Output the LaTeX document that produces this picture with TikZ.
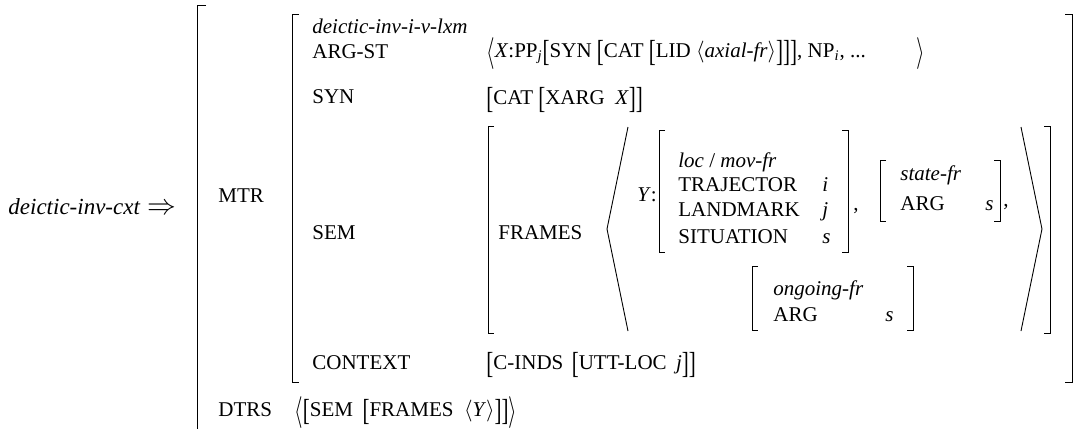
\documentclass[tikz,border=0pt]{standalone}
\usepackage{fontspec}
\setmainfont{Liberation Serif}
\newcommand\lbrk{\raisebox{-0.2em}{\scalebox{1}[1.45]{[}}}
\newcommand\rbrk{\raisebox{-0.2em}{\scalebox{1}[1.45]{]}}}
\newcommand\lng{\raisebox{-0.2em}{\scalebox{1}[1.45]{$\langle$}}}
\newcommand\rng{\raisebox{-0.2em}{\scalebox{1}[1.45]{$\rangle$}}}
\begin{document}
\begin{tikzpicture}[x=0.5pt, y=-0.5pt,
    every node/.style = {inner sep=0pt, anchor=base west,
      font=\fontsize{10.5}{12}\selectfont},
    brk/.style = {draw, line width=0.5pt},
    ang/.style = {draw, line width=0.45pt}]
  \useasboundingbox (0,0) rectangle (1084,429);
  % left-hand side
  \node[font=\fontsize{11.5}{14}\selectfont] (cxt) at (8,214) {\textit{deictic-inv-cxt}\hspace{0.3em}{\fontsize{14}{16}\selectfont$\Rightarrow$}};
  % outer matrix
  \draw[brk] (206,5) -- (197,5) -- (197,429);
  \node (mtr) at (218,202) {MTR};
  \node (dtrs) at (218,416) {DTRS};
  \node (dtrsval) at (294,416) {\lng\lbrk SEM\hspace{0.45em}\lbrk FRAMES\hspace{0.5em}$\langle$\textit{Y}$\rangle$\rbrk\rbrk\rng};
  % MTR matrix
  \draw[brk] (299,14) -| (292,382) -- (299,382);
  \draw[brk] (1065,14) -| (1072,382) -- (1065,382);
  \node (lxm) at (312,33) {\textit{deictic-inv-i-v-lxm}};
  \node (argst) at (312,58) {ARG-ST};
  \node (argstval) at (486,57) {\lng\textit{X}:PP\textsubscript{\textit{j}}\lbrk SYN \lbrk CAT \lbrk LID $\langle$\textit{axial-fr}$\rangle$\rbrk\rbrk\rbrk, NP\textsubscript{\textit{i}}, ...\hspace{2.4em}\rng};
  \node (syn) at (312,103) {SYN};
  \node (synval) at (486,104) {\lbrk CAT \lbrk XARG\hspace{0.5em}\textit{X}\rbrk\rbrk};
  \node (sem) at (312,239) {SEM};
  \node (ctx) at (312,369) {CONTEXT};
  \node (ctxval) at (486,369) {\lbrk C-INDS\hspace{0.4em}\lbrk UTT-LOC\hspace{0.45em}\textit{j}\rbrk\rbrk};
  % SEM value
  \draw[brk] (494,126) -| (488,333) -- (494,333);
  \draw[brk] (1044,126) -| (1050,333) -- (1044,333);
  \node (frames) at (498,239) {FRAMES};
  \draw[ang] (628,127) -- (607,229) -- (628,331);
  \draw[ang] (1021,127) -- (1042,229) -- (1021,331);
  % loc / mov frame
  \node (y) at (637,201) {\textit{Y}:};
  \draw[brk] (665,130) -| (659,252) -- (665,252);
  \draw[brk] (842,130) -| (848,252) -- (842,252);
  \node (locfr) at (678,167) {\textit{loc} / \textit{mov-fr}};
  \node (traj) at (678,191) {TRAJECTOR};
  \node (land) at (678,216) {LANDMARK};
  \node (sit) at (678,243) {SITUATION};
  \node (trajv) at (822,191) {\textit{i}};
  \node (landv) at (822,216) {\textit{j}};
  \node (sitv) at (822,243) {\textit{s}};
  \node (comma1) at (853,210) {,};
  % state frame
  \draw[brk] (886,160) -| (880,221) -- (886,221);
  \draw[brk] (994,160) -| (1000,221) -- (994,221);
  \node (statefr) at (900,180) {\textit{state-fr}};
  \node (statearg) at (900,210) {ARG};
  \node (statev) at (985,210) {\textit{s}};
  \node (comma2) at (1003,206) {,};
  % ongoing frame
  \draw[brk] (758,266) -| (752,330) -- (758,330);
  \draw[brk] (907,266) -| (913,330) -- (907,330);
  \node (ongfr) at (773,295) {\textit{ongoing-fr}};
  \node (ongarg) at (773,321) {ARG};
  \node (ongv) at (885,321) {\textit{s}};
\end{tikzpicture}
\end{document}
